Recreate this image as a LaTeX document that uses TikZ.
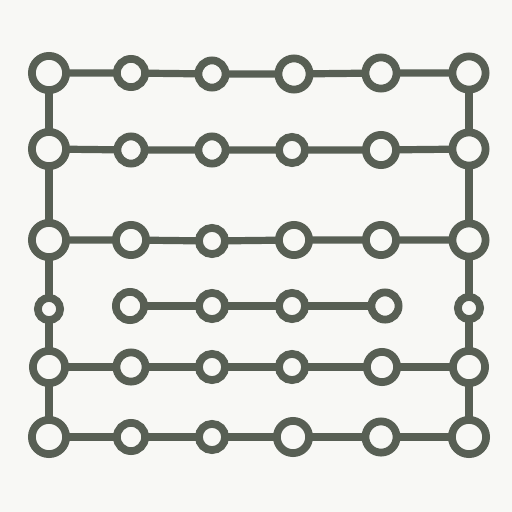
\documentclass[tikz,border=0pt]{standalone}
\usetikzlibrary{backgrounds}
\definecolor{ink}{RGB}{88,95,84}
\definecolor{paper}{RGB}{248,248,245}
\tikzset{
  ring/.style={circle, draw=ink, fill=paper, line width=7.8pt, inner sep=0pt, minimum size=#1},
  wire/.style={draw=ink, line width=7.2pt}
}
\begin{document}
\begin{tikzpicture}[x=1pt,y=-1pt]
% rings: name/x/y/outer radius
\foreach \n/\x/\y/\r in {
  a1/49/73/21, a2/131/73/18, a3/212/74/17.5, a4/294/74/19.5, a5/381/73/19.5, a6/469/73/20.5,
  b1/49/149/21, b2/131/150/17.5, b3/212/150/17.5, b4/292/150/17, b5/381/150/19, b6/469/149/20.5,
  c1/49/240/21, c2/131/240/19, c3/212/241/17, c4/294/240/19, c5/381/240/19, c6/469/240/20.5,
  d1/49/309/15, d2/130/306/18, d3/212/306/17, d4/292/306/17, d5/385/306/17.5, d6/469/308/15,
  e1/49/367/20, e2/131/367/18.5, e3/212/367/17, e4/292/367/17, e5/382/367/19, e6/469/367/20,
  f1/49/437/21, f2/131/437/18, f3/212/437/17, f4/293/437/20, f5/381/437/19.5, f6/469/437/21}
{
  \pgfmathsetmacro{\d}{2*\r-7.8}
  \node[ring=\d pt] (\n) at (\x,\y) {};
}
\begin{scope}[on background layer]
\fill[paper] (0,0) rectangle (512,512);
\foreach \row in {a,b,c,e,f}{
  \draw[wire] (\row1.center) -- (\row2.center) -- (\row3.center) -- (\row4.center) -- (\row5.center) -- (\row6.center);
}
\draw[wire] (d2.center) -- (d3.center) -- (d4.center) -- (d5.center);
\draw[wire] (a1.center) -- (b1.center) -- (c1.center) -- (d1.center) -- (e1.center) -- (f1.center);
\draw[wire] (a6.center) -- (b6.center) -- (c6.center) -- (d6.center) -- (e6.center) -- (f6.center);
\end{scope}
\useasboundingbox (0,0) rectangle (512,512);
\end{tikzpicture}
\end{document}
